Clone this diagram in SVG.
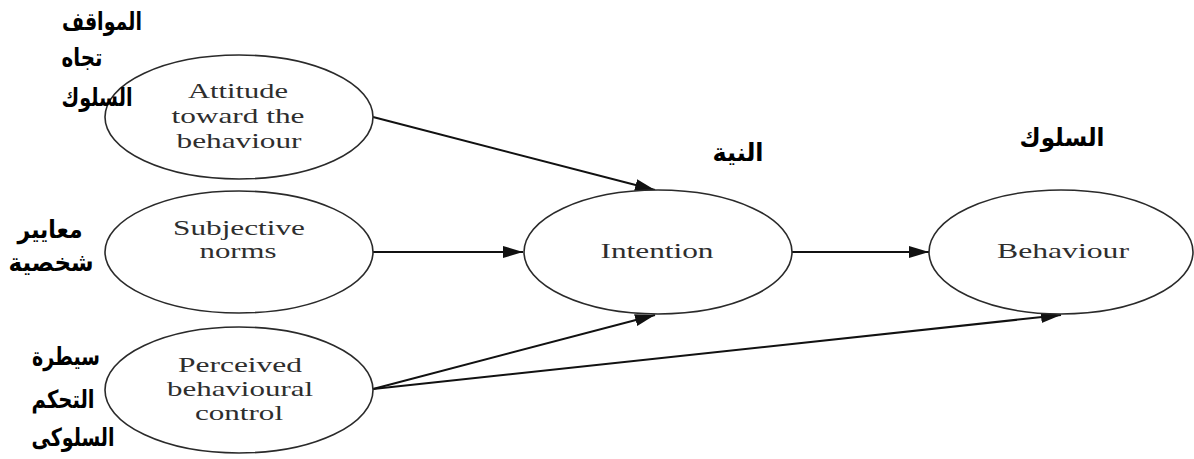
<svg xmlns="http://www.w3.org/2000/svg" width="1194" height="459" viewBox="0 0 1194 459">
<style>
.node ellipse{fill:#fff;stroke:#2a2a2a;stroke-width:1.6}
.en{font-family:"Liberation Serif","Times New Roman",serif;font-size:21px;fill:#2e2e2e;text-anchor:middle}
.ar{font-family:"DejaVu Sans","Noto Sans",sans-serif;font-weight:bold;font-size:25px;fill:#000;text-anchor:middle}
.edges line{stroke:#111;stroke-width:2;fill:none}
</style>
<defs>
<marker id="ah" markerUnits="userSpaceOnUse" markerWidth="20" markerHeight="14" viewBox="0 0 20 14" refX="20" refY="7" orient="auto">
<path d="M0,1 L20,7 L0,13 Z" fill="#111"/>
</marker>
</defs>
<rect width="1194" height="459" fill="#fff"/>
<g class="edges">
<line x1="373" y1="117" x2="655" y2="190" marker-end="url(#ah)"/>
<line x1="373" y1="252" x2="523" y2="252" marker-end="url(#ah)"/>
<line x1="373" y1="389" x2="655" y2="315" marker-end="url(#ah)"/>
<line x1="373" y1="389" x2="1061" y2="315" marker-end="url(#ah)"/>
<line x1="792" y1="252" x2="929" y2="252" marker-end="url(#ah)"/>
</g>
<g id="attitude" class="node">
<ellipse cx="239" cy="117" rx="134" ry="62"/>
<text class="en" transform="translate(238 98) scale(1.4 1)" textLength="71.4" lengthAdjust="spacingAndGlyphs">Attitude</text>
<text class="en" transform="translate(238 123) scale(1.4 1)" textLength="95" lengthAdjust="spacingAndGlyphs">toward the</text>
<text class="en" transform="translate(239 148) scale(1.4 1)" textLength="89.3" lengthAdjust="spacingAndGlyphs">behaviour</text>
</g>
<g id="subjective" class="node">
<ellipse cx="239" cy="252" rx="134" ry="61"/>
<text class="en" transform="translate(239 235) scale(1.4 1)" textLength="94.3" lengthAdjust="spacingAndGlyphs">Subjective</text>
<text class="en" transform="translate(238 258) scale(1.4 1)" textLength="55" lengthAdjust="spacingAndGlyphs">norms</text>
</g>
<g id="perceived" class="node">
<ellipse cx="239" cy="390" rx="134" ry="63"/>
<text class="en" transform="translate(240 372) scale(1.4 1)" textLength="88.6" lengthAdjust="spacingAndGlyphs">Perceived</text>
<text class="en" transform="translate(240 396) scale(1.4 1)" textLength="104.3" lengthAdjust="spacingAndGlyphs">behavioural</text>
<text class="en" transform="translate(239 420) scale(1.4 1)" textLength="62.9" lengthAdjust="spacingAndGlyphs">control</text>
</g>
<g id="intention" class="node">
<ellipse cx="658" cy="252" rx="134" ry="62"/>
<text class="en" transform="translate(657 258) scale(1.4 1)" textLength="80.7" lengthAdjust="spacingAndGlyphs">Intention</text>
</g>
<g id="behaviour" class="node">
<ellipse cx="1061" cy="252" rx="132" ry="62"/>
<text class="en" transform="translate(1063 258) scale(1.4 1)" textLength="94.3" lengthAdjust="spacingAndGlyphs">Behaviour</text>
</g>
<g id="labels">
<text class="ar" x="102" y="30" textLength="80" lengthAdjust="spacingAndGlyphs">المواقف</text>
<text class="ar" x="82" y="66" textLength="41" lengthAdjust="spacingAndGlyphs">تجاه</text>
<text class="ar" x="97" y="106" textLength="71" lengthAdjust="spacingAndGlyphs">السلوك</text>
<text class="ar" x="50" y="238" textLength="65" lengthAdjust="spacingAndGlyphs">معايير</text>
<text class="ar" x="51" y="271" textLength="85" lengthAdjust="spacingAndGlyphs">شخصية</text>
<text class="ar" x="66" y="365" textLength="68" lengthAdjust="spacingAndGlyphs">سيطرة</text>
<text class="ar" x="63" y="408" textLength="63" lengthAdjust="spacingAndGlyphs">التحكم</text>
<text class="ar" x="73" y="446" textLength="83" lengthAdjust="spacingAndGlyphs">السلوكى</text>
<text class="ar" x="738" y="161" textLength="51" lengthAdjust="spacingAndGlyphs">النية</text>
<text class="ar" x="1062" y="146" textLength="85" lengthAdjust="spacingAndGlyphs">السلوك</text>
</g>
</svg>
